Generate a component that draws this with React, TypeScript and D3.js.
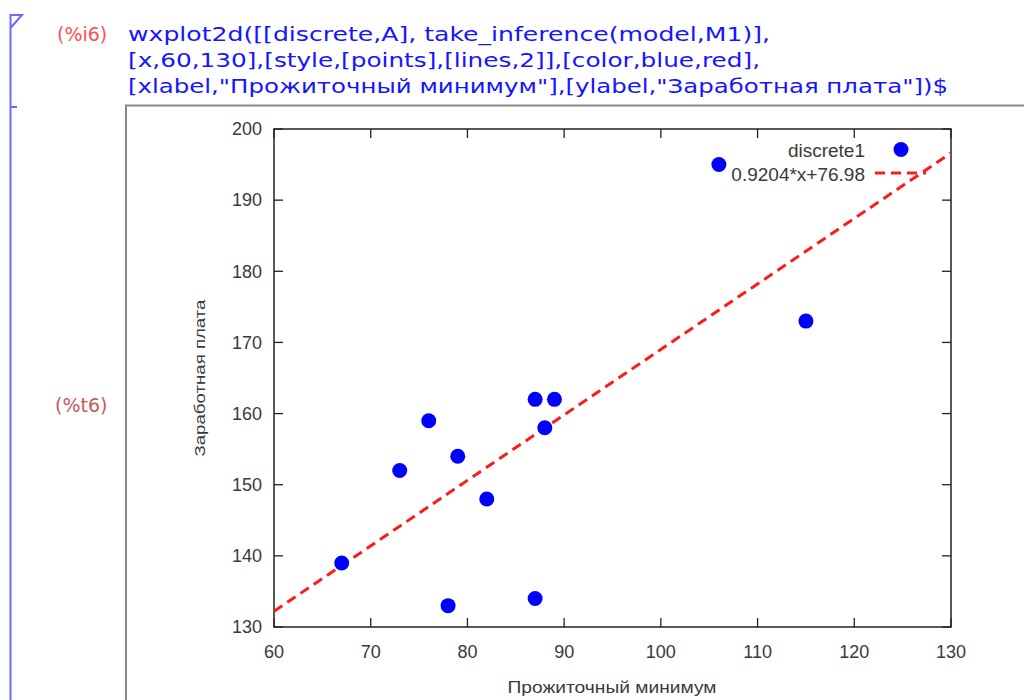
import React from 'react';
import * as d3 from 'd3';

// Точки (Прожиточный минимум, Заработная плата)
const xValues = [67, 73, 76, 78, 79, 82, 87, 87, 88, 89, 106, 115];
const yValues = [139, 152, 159, 133, 154, 148, 162, 134, 158, 162, 195, 173];
const xTicks = [60, 70, 80, 90, 100, 110, 120, 130];
const yTicks = [130, 140, 150, 160, 170, 180, 190, 200];
const slope = 0.9204;
const intercept = 76.98;
const legendLabels = ['discrete1', '0.9204*x+76.98'];
const codeLines = [
  'wxplot2d([[discrete,A], take_inference(model,M1)],',
  '[x,60,130],[style,[points],[lines,2]],[color,blue,red],',
  '[xlabel,"Прожиточный минимум"],[ylabel,"Заработная плата"])$',
];
const codeWidths = [642, 632, 820];

const App = () => {
  const width = 1024;
  const height = 700;
  const x = d3.scaleLinear().domain([60, 130]).range([274, 951]);
  const y = d3.scaleLinear().domain([130, 200]).range([627, 129]);
  const [x0, x1] = x.domain();
  const fitLine = d3.line<number>()
    .x(d => x(d))
    .y(d => y(slope * d + intercept));
  const tickColor = '#222';
  const textColor = '#3a3a3a';
  const chartFont = '"Liberation Sans", Arial, sans-serif';

  return (
    <div style={{ position: 'absolute', left: 0, top: 0 }}>
      <svg width={width} height={height} style={{ display: 'block', background: '#fff' }}>
        {/* скобка ячейки wxMaxima */}
        <path d="M10.5,700 V15 H22 L10.5,28" fill="none" stroke="#6a6aff" strokeWidth={2} />
        <line x1={10} x2={17} y1={107} y2={107} stroke="#6a6aff" strokeWidth={2} />

        <text x={57} y={41} fill="#ff5050" fontFamily='"DejaVu Sans", sans-serif' fontSize={19}>(%i6)</text>
        {codeLines.map((t, i) => (
          <text key={i} x={128} y={41 + i * 26} fill="#1515ff"
            fontFamily='"DejaVu Sans", Tahoma, sans-serif' fontSize={20}
            textLength={codeWidths[i]} lengthAdjust="spacingAndGlyphs">{t}</text>
        ))}
        <text x={55} y={412} fill="#c05a5a" fontFamily='"DejaVu Sans", sans-serif' fontSize={19}>(%t6)</text>

        {/* рамка картинки */}
        <path d="M126,700 V105.5 H1024" fill="none" stroke="#8a8a8a" strokeWidth={2} />

        {/* область графика */}
        <rect x={x(x0)} y={y(200)} width={x(x1) - x(x0)} height={y(130) - y(200)}
          fill="none" stroke={tickColor} strokeWidth={1.5} />

        {xTicks.map(t => (
          <g key={'x' + t}>
            <line x1={x(t)} x2={x(t)} y1={y(130)} y2={y(130) - 9} stroke={tickColor} strokeWidth={1.3} />
            <line x1={x(t)} x2={x(t)} y1={y(200)} y2={y(200) + 9} stroke={tickColor} strokeWidth={1.3} />
            <text x={x(t)} y={658} textAnchor="middle" fill={textColor}
              fontFamily={chartFont} fontSize={18}>{t}</text>
          </g>
        ))}
        {yTicks.map(t => (
          <g key={'y' + t}>
            <line x1={x(60)} x2={x(60) + 9} y1={y(t)} y2={y(t)} stroke={tickColor} strokeWidth={1.3} />
            <line x1={x(130)} x2={x(130) - 9} y1={y(t)} y2={y(t)} stroke={tickColor} strokeWidth={1.3} />
            <text x={262} y={y(t)} dy="0.35em" textAnchor="end" fill={textColor}
              fontFamily={chartFont} fontSize={18}>{t}</text>
          </g>
        ))}

        <text x={612} y={693} textAnchor="middle" fill={textColor} fontFamily={chartFont}
          fontSize={17} textLength={209} lengthAdjust="spacingAndGlyphs">Прожиточный минимум</text>
        <text transform="translate(205,378) rotate(-90)" textAnchor="middle" fill={textColor}
          fontFamily={chartFont} fontSize={15} textLength={157} lengthAdjust="spacingAndGlyphs">Заработная плата</text>

        {/* линия регрессии */}
        <path d={fitLine([x0, x1]) || ''} fill="none" stroke="#ff1a1a" strokeWidth={3}
          strokeDasharray="10,6" />

        {xValues.map((v, i) => (
          <circle key={i} cx={x(v)} cy={y(yValues[i])} r={7.5} fill="#0000ff" />
        ))}

        {/* легенда */}
        <text x={865} y={157} textAnchor="end" fill={textColor} fontFamily={chartFont} fontSize={19}>{legendLabels[0]}</text>
        <circle cx={901} cy={149.5} r={7.5} fill="#0000ff" />
        <text x={865} y={181} textAnchor="end" fill={textColor} fontFamily={chartFont} fontSize={19}>{legendLabels[1]}</text>
        <line x1={875} x2={926} y1={173} y2={173} stroke="#ff1a1a" strokeWidth={3} strokeDasharray="10,6" />
      </svg>
    </div>
  );
};

export default App;
